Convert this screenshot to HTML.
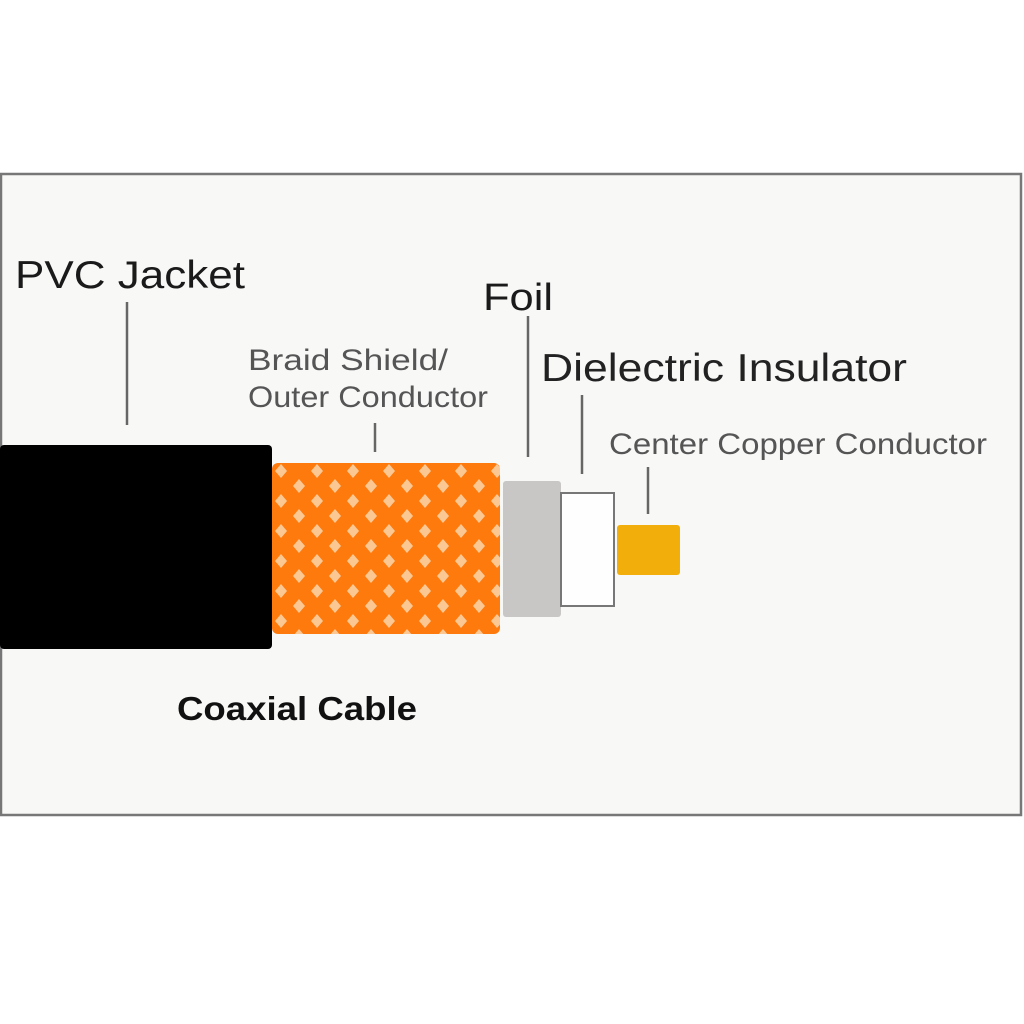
<!DOCTYPE html>
<html><head><meta charset="utf-8"><style>
html,body{margin:0;padding:0;background:#fff;}
body{width:1024px;height:1024px;position:relative;overflow:hidden;font-family:"Liberation Sans",sans-serif;}
</style></head><body>
<svg width="1024" height="1024" viewBox="0 0 1024 1024" xmlns="http://www.w3.org/2000/svg" style="position:absolute;left:0;top:0">
<defs>
<pattern id="braid" x="272" y="463" width="36" height="30" patternUnits="userSpaceOnUse">
<rect width="36" height="30" fill="#fe7a0c"/>
<path d="M9 1 L15 8 L9 15 L3 8 Z" fill="#fbc894"/>
<path d="M27 16 L33 23 L27 30 L21 23 Z" fill="#fbc894"/>
</pattern>
</defs>
<rect x="1" y="174" width="1020" height="641" fill="#f8f8f7" stroke="#777" stroke-width="2.5"/>
<g stroke="#666" stroke-width="2.5">
<line x1="127" y1="302" x2="127" y2="425"/>
<line x1="375" y1="423" x2="375" y2="452"/>
<line x1="528" y1="316" x2="528" y2="457"/>
<line x1="582" y1="395" x2="582" y2="474"/>
<line x1="648" y1="467" x2="648" y2="514"/>
</g>
<rect x="503" y="481" width="58" height="136" rx="3" fill="#c8c7c5"/>
<rect x="561" y="493" width="53" height="113" fill="#fefefe" stroke="#777" stroke-width="2"/>
<rect x="617" y="525" width="63" height="50" rx="3" fill="#f2ae0a"/>
<rect x="272" y="463" width="228" height="171" rx="6" fill="url(#braid)"/>
<rect x="0" y="445" width="272" height="204" rx="4" fill="#000"/>
<text x="15" y="288" font-size="39" fill="#1a1a1a" textLength="230" lengthAdjust="spacingAndGlyphs">PVC Jacket</text>
<text x="483" y="310" font-size="38" fill="#1a1a1a" textLength="70" lengthAdjust="spacingAndGlyphs">Foil</text>
<text x="248" y="370" font-size="30" fill="#555" textLength="200" lengthAdjust="spacingAndGlyphs">Braid Shield/</text>
<text x="248" y="407" font-size="30" fill="#555" textLength="240" lengthAdjust="spacingAndGlyphs">Outer Conductor</text>
<text x="541" y="381" font-size="39" fill="#222" textLength="366" lengthAdjust="spacingAndGlyphs">Dielectric Insulator</text>
<text x="609" y="454" font-size="30" fill="#555" textLength="378" lengthAdjust="spacingAndGlyphs">Center Copper Conductor</text>
<text x="177" y="720" font-size="33" font-weight="bold" fill="#111" textLength="240" lengthAdjust="spacingAndGlyphs">Coaxial Cable</text>
</svg>
</body></html>
